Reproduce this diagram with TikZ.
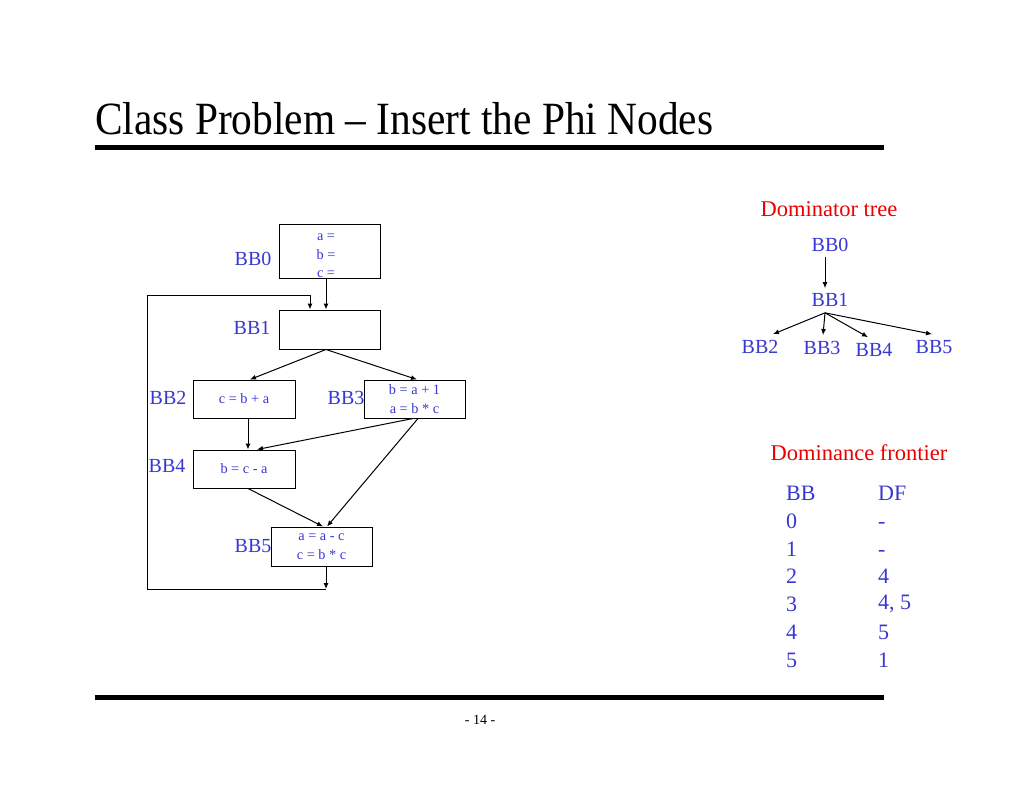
\documentclass[tikz,border=0pt]{standalone}
\usepackage{fontspec}
\setmainfont{Liberation Serif}
\usetikzlibrary{arrows.meta}
\definecolor{bbblue}{RGB}{55,55,210}
\definecolor{hdred}{RGB}{235,0,0}
\begin{document}
\begin{tikzpicture}[x=1pt,y=-1pt,
  arr/.style={draw=black,line width=1pt,-{Latex[length=6pt,width=5pt]}},
  bbox/.style={draw=black,line width=1pt,rectangle,inner sep=0pt,minimum width=101pt,text=bbblue,font=\fontsize{14.3}{18.5}\selectfont,align=center},
  bblab/.style={text=bbblue,font=\fontsize{20}{24}\selectfont,inner sep=0pt},
  dtnode/.style={text=bbblue,font=\fontsize{20}{24}\selectfont,inner xsep=0pt,inner ysep=5pt},
  head/.style={text=hdred,font=\fontsize{22.5}{26}\selectfont,inner sep=0pt},
  cell/.style={text=bbblue,font=\fontsize{22}{26}\selectfont,inner sep=0pt,anchor=west}]
\useasboundingbox (0,0) rectangle (1024,791);
\fill[white] (0,0) rectangle (1024,791);
% title and rules
\node[anchor=base west,inner sep=0pt,font=\fontsize{42}{48}\selectfont] (title) at (95,135) {\scalebox{0.985}[1.1]{Class Problem -- Insert the Phi Nodes}};
\fill[black] (95,145) rectangle (884,150);
\fill[black] (95,695) rectangle (884,700);
\node[inner sep=0pt,font=\fontsize{14}{16}\selectfont] (page) at (480,720) {- 14 -};
% CFG boxes
\node[bbox,minimum height=54pt] (bb0) at (329.5,252) {};
\node[text=bbblue,font=\fontsize{14.3}{18.5}\selectfont,align=center,inner sep=0pt] (bb0t) at (326,256) {a =\\b =\\c =};
\node[bbox,minimum height=39pt] (bb1) at (329.5,329.5) {};
\node[bbox,minimum width=102pt,minimum height=38pt] (bb2) at (244,399) {c = b + a};
\node[bbox,minimum height=38pt] (bb3) at (414.5,399) {b = a + 1\\a = b * c};
\node[bbox,minimum width=102pt,minimum height=38pt] (bb4) at (244,469) {b = c - a};
\node[bbox,minimum height=39pt] (bb5) at (321.5,546.5) {a = a - c\\c = b * c};
% CFG labels
\node[bblab] (l0) at (253,259) {BB0};
\node[bblab] (l1) at (252,328) {BB1};
\node[bblab] (l2) at (168,398) {BB2};
\node[bblab] (l3) at (346,398) {BB3};
\node[bblab] (l4) at (167,466) {BB4};
\node[bblab] (l5) at (253,546) {BB5};
% CFG edges
\draw[arr] ([xshift=-3.5pt]bb0.south) -- ([xshift=-3.5pt]bb1.north);
\draw[arr] ([xshift=-3.5pt]bb1.south) -- ([xshift=6pt]bb2.north);
\draw[arr] ([xshift=-3.5pt]bb1.south) -- ([xshift=2.5pt]bb3.north);
\draw[arr] ([xshift=4pt]bb2.south) -- ([xshift=4pt]bb4.north);
\draw[arr] ([xshift=-1.5pt]bb3.south) -- ([xshift=13pt]bb4.north);
\draw[arr] ([xshift=3.5pt]bb3.south) -- ([xshift=5.5pt]bb5.north);
\draw[arr] ([xshift=4pt]bb4.south) -- ([xshift=1.5pt]bb5.north);
\coordinate (loopb) at (326,589);
\draw[arr] ([xshift=4.5pt]bb5.south) -- (loopb);
\draw[arr] (loopb) -- (147,589) -- (147,295) -| ([xshift=-19.5pt]bb1.north);
% Dominator tree
\node[head] (dth) at (829,209) {Dominator tree};
\node[dtnode] (dt0) at (830,245) {BB0};
\node[dtnode] (dt1) at (830,300) {BB1};
\node[dtnode] (dt2) at (760,347) {BB2};
\node[dtnode] (dt3) at (822,348) {BB3};
\node[dtnode] (dt4) at (874,350) {BB4};
\node[dtnode] (dt5) at (934,347) {BB5};
\draw[arr] ([xshift=-5pt]dt0.south) -- ([xshift=-5pt]dt1.north);
\draw[arr] ([xshift=-5pt,yshift=-1pt]dt1.south) -- ([xshift=13pt,yshift=1pt]dt2.north);
\draw[arr] ([xshift=-5pt,yshift=-1pt]dt1.south) -- ([xshift=1pt,yshift=1pt]dt3.north);
\draw[arr] ([xshift=-5pt,yshift=-1pt]dt1.south) -- ([xshift=-6pt,yshift=1pt]dt4.north);
\draw[arr] ([xshift=-5pt,yshift=-1pt]dt1.south) -- ([xshift=-2pt,yshift=1pt]dt5.north);
% Dominance frontier
\node[head] (dfh) at (859,453) {Dominance frontier};
\node[cell] (hbb) at (786,493) {BB};
\node[cell] (hdf) at (878,493) {DF};
\node[cell] (r0a) at (786,521) {0}; \node[cell] (r0b) at (878,525) {-};
\node[cell] (r1a) at (786,549) {1}; \node[cell] (r1b) at (878,553) {-};
\node[cell] (r2a) at (786,576) {2}; \node[cell] (r2b) at (878,576) {4};
\node[cell] (r3a) at (786,604) {3}; \node[cell] (r3b) at (878,604) {4, 5};
\node[cell] (r4a) at (786,632) {4}; \node[cell] (r4b) at (878,632) {5};
\node[cell] (r5a) at (786,660) {5}; \node[cell] (r5b) at (878,660) {1};
\end{tikzpicture}
\end{document}
